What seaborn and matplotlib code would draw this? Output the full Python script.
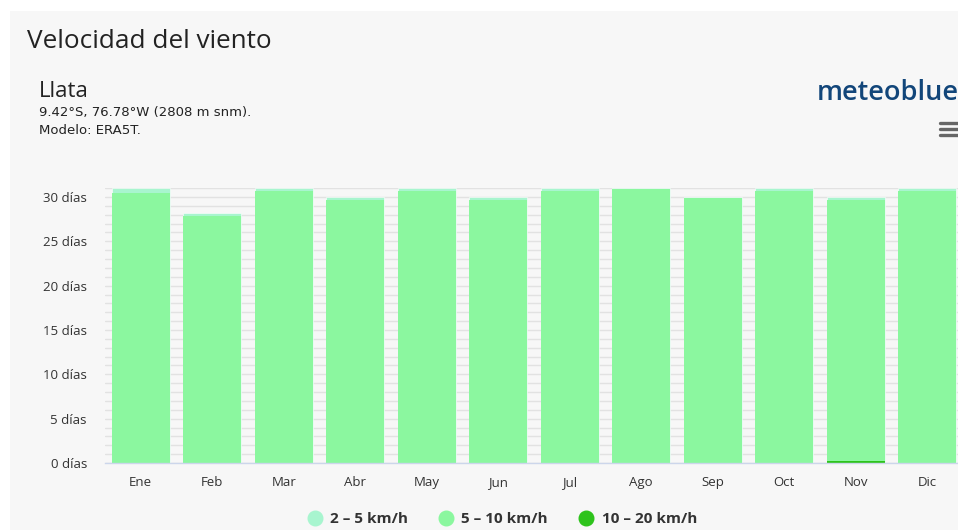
import numpy as np
import pandas as pd
import seaborn as sns
import matplotlib
matplotlib.use("Agg")
import matplotlib.pyplot as plt
from matplotlib.lines import Line2D
from matplotlib.patches import Rectangle
from matplotlib.ticker import MultipleLocator

# Monthly number of days per wind-speed class
months = ["Ene", "Feb", "Mar", "Abr", "May", "Jun", "Jul", "Ago", "Sep", "Oct", "Nov", "Dic"]
days_2_5 = [0.5, 0.4, 0.3, 0.3, 0.35, 0.3, 0.3, 0.05, 0.1, 0.3, 0.3, 0.3]
days_5_10 = [30.5, 27.85, 30.7, 29.7, 30.65, 29.7, 30.7, 30.95, 29.9, 30.7, 29.5, 30.7]
days_10_20 = [0, 0, 0, 0, 0, 0, 0, 0, 0, 0, 0.2, 0]

y_ticks = [0, 5, 10, 15, 20, 25, 30]
series_labels = ["2 – 5 km/h", "5 – 10 km/h", "10 – 20 km/h"]
series_colors = ["#a8f5cf", "#8bf79f", "#2ec31c"]

sns.set_theme(style="white")
plt.rcParams["font.family"] = ["Open Sans", "DejaVu Sans"]

W, H = 958, 530
fig = plt.figure(figsize=(W / 100, H / 100), dpi=100, facecolor="white")
panel_bg = "#f7f7f7"
fig.patches.append(Rectangle((10 / W, 0), 1, 1 - 11 / H, transform=fig.transFigure,
                             facecolor=panel_bg, edgecolor="none", zorder=-10))

# Plot area in pixel terms: x 105..963, y 463 (0 days) up to 31 days
px_per_day = 8.867
y_max = 31
ax_left, ax_right = 105, 963
ax_bottom = 463
ax_top = ax_bottom - y_max * px_per_day
ax = fig.add_axes([ax_left / W, (H - ax_bottom) / H, (ax_right - ax_left) / W,
                   (ax_bottom - ax_top) / H])
ax.set_zorder(1)
ax.set_facecolor(panel_bg)

df = pd.DataFrame({"mes": months, "d25": days_2_5, "d510": days_5_10, "d1020": days_10_20})
# Stack from the bottom: 10-20, then 5-10, then 2-5 on top
df["top_1020"] = df["d1020"]
df["top_510"] = df["d1020"] + df["d510"]
df["top_25"] = df["top_510"] + df["d25"]

bar_w = 0.81
layers = [("top_25", series_colors[0], 0.4), ("top_510", series_colors[1], 0),
          ("top_1020", series_colors[2], 0)]
for col, color, lw in layers:
    sns.barplot(data=df, x="mes", y=col, order=months, color=color, width=bar_w,
                saturation=1, edgecolor="white", linewidth=lw, ax=ax, zorder=3)

ax.set_xlim(-0.5, len(months) - 0.5)
ax.set_ylim(0, y_max)
ax.set_xlabel("")
ax.set_ylabel("")

# Grid: one line per day
ax.yaxis.set_major_locator(MultipleLocator(5))
ax.yaxis.set_minor_locator(MultipleLocator(1))
ax.set_yticks(y_ticks)
ax.set_yticklabels([f"{v} días" for v in y_ticks])
ax.grid(axis="y", which="both", color="#e2e2e2", linewidth=1.0, zorder=0)
ax.grid(axis="x", visible=False)
ax.set_axisbelow(True)

for side in ["top", "right", "left"]:
    ax.spines[side].set_visible(False)
ax.spines["bottom"].set_color("#ccd6eb")
ax.spines["bottom"].set_linewidth(1.0)
ax.spines["bottom"].set_zorder(5)

ax.tick_params(axis="y", which="both", length=0, pad=13, labelsize=9.5, labelcolor="#333333")
ax.tick_params(axis="x", length=0, pad=9.5, labelsize=9.5, labelcolor="#333333")

# Header texts
fig.text(27 / W, 1 - 48 / H, "Velocidad del viento", fontsize=18.8, color="#222222",
         va="baseline")
fig.text(39 / W, 1 - 97 / H, "Llata", fontsize=16, color="#222222", va="baseline")
fig.text(39 / W, 1 - 116 / H, "9.42°S, 76.78°W (2808 m snm).", fontsize=9.5, color="#222222",
         va="baseline", family="DejaVu Sans")
fig.text(39 / W, 1 - 134 / H, "Modelo: ERA5T.", fontsize=9.5, color="#222222", va="baseline",
         family="DejaVu Sans")

# Brand mark and menu icon
fig.text(817 / W, 1 - 100 / H, "meteoblue", fontsize=19.5, fontweight="semibold",
         color="#12467a", va="baseline")
for yy in (123, 129, 135):
    fig.add_artist(Line2D([940 / W, 960 / W], [1 - yy / H, 1 - yy / H], color="#666666",
                          linewidth=2.4, solid_capstyle="round", transform=fig.transFigure))

# Legend
handles = [Line2D([0], [0], marker="o", linestyle="none", markersize=10.5,
                  markerfacecolor=c, markeredgecolor=c) for c in series_colors]
leg = fig.legend(handles, series_labels, loc="center", bbox_to_anchor=(502 / W, 1 - 519 / H),
                 ncol=3, frameon=False, handletextpad=0.5, columnspacing=2.0,
                 prop={"size": 11, "weight": "bold"}, handlelength=1.0)
for t in leg.get_texts():
    t.set_color("#333333")

fig.savefig("out.png", dpi=100, facecolor=fig.get_facecolor())
